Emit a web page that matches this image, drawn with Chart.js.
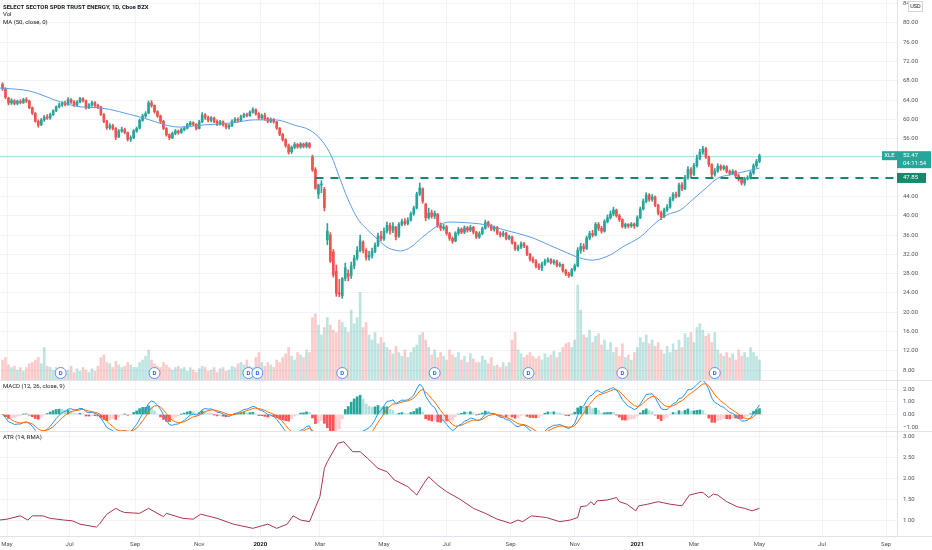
<!DOCTYPE html>
<html>
<head>
<meta charset="utf-8">
<script src="https://cdn.jsdelivr.net/npm/chart.js@4.4.1/dist/chart.umd.min.js"></script>
<style>
  html, body { margin: 0; padding: 0; background: #fff; }
  #wrap { position: relative; width: 932px; height: 550px; overflow: hidden; }
  canvas { position: absolute; left: 0; }
</style>
</head>
<body>
<div id="wrap">
  <canvas id="main" width="932" height="380" style="top:0;width:932px;height:380px"></canvas>
  <canvas id="macd" width="932" height="51" style="top:380px;width:932px;height:51px"></canvas>
  <canvas id="atr" width="932" height="119" style="top:431px;width:932px;height:119px"></canvas>
</div>
<script>
// x axis = trading session index, 0 = 1 May 2019
var tickDays = [0, 42, 86, 129, 170, 210, 253, 295, 338, 381, 423, 461, 505, 547, 590];
var tickLabels = ["May", "Jul", "Sep", "Nov", "2020", "Mar", "May", "Jul", "Sep", "Nov", "2021", "Mar", "May", "Jul", "Sep"];
var priceTicks = [8, 12, 16, 20, 24, 28, 32, 36, 40, 44, 48, 52, 56, 60, 64, 68, 72, 76, 80, 84];
var macdTicks = [-1, 0, 1, 2];
var atrTicks = [1, 1.5, 2, 2.5, 3];

// one candle per 2 sessions, first one starts at session -3
var firstDay = -3;
var dayStep = 2;

var opens = [67.3, 66.4, 64.4, 63.4, 63.8, 63.3, 63.7, 63.5, 64.1, 63.8,
  62.4, 61.3, 59.6, 58.9, 59.9, 60.5, 60.3, 61.0, 61.8, 62.6,
  63.0, 63.4, 63.1, 64.1, 63.6, 63.0, 63.6, 64.3, 63.9, 62.4,
  63.0, 63.5, 62.9, 62.6, 61.0, 59.6, 58.3, 58.7, 58.1, 56.4,
  57.6, 57.9, 57.3, 55.9, 56.2, 57.6, 58.2, 59.8, 60.7, 61.3,
  63.4, 62.9, 61.6, 60.7, 59.6, 58.1, 56.8, 56.2, 57.1, 57.6,
  57.3, 57.9, 58.2, 58.9, 59.3, 59.0, 58.1, 59.5, 60.9, 60.4,
  59.8, 60.3, 59.6, 59.0, 59.5, 58.9, 58.4, 58.7, 59.6, 60.0,
  59.8, 60.6, 61.0, 60.8, 61.5, 62.0, 61.2, 60.3, 60.8, 60.2,
  59.6, 60.0, 59.5, 58.2, 56.9, 55.8, 54.6, 53.3, 54.2, 54.8,
  54.3, 54.9, 54.4, 55.0, 52.2, 49.6, 44.5, 46.4, 45.5, 35.0,
  36.0, 32.5, 28.5, 24.0, 23.4, 27.0, 28.0, 27.6, 29.6, 31.2,
  32.8, 34.5, 32.8, 31.4, 31.8, 32.6, 33.9, 35.8, 35.2, 36.8,
  38.0, 37.0, 37.6, 35.8, 38.2, 38.8, 38.4, 39.1, 40.4, 41.6,
  44.5, 45.6, 42.4, 39.6, 40.6, 39.9, 40.3, 38.0, 37.4, 37.7,
  36.3, 35.3, 34.8, 36.4, 37.2, 36.6, 37.5, 37.0, 37.6, 36.6,
  35.6, 36.3, 37.4, 38.6, 38.0, 37.2, 37.6, 36.4, 36.0, 36.4,
  35.3, 35.6, 34.4, 33.1, 33.5, 34.2, 33.6, 32.0, 31.0, 30.6,
  29.6, 29.2, 30.0, 30.6, 30.9, 30.3, 30.6, 29.7, 29.9, 28.6,
  28.0, 27.6, 28.8, 29.6, 32.8, 33.6, 33.2, 35.4, 36.3, 36.0,
  38.2, 37.4, 36.8, 38.8, 39.6, 40.4, 41.2, 40.0, 39.2, 37.8,
  38.2, 37.9, 38.3, 37.9, 39.6, 41.4, 43.0, 44.3, 43.4, 43.9,
  42.2, 40.6, 39.8, 41.2, 41.8, 43.4, 44.4, 44.1, 46.4, 45.6,
  47.9, 49.6, 48.6, 50.4, 51.9, 53.2, 53.9, 52.2, 50.6, 48.6,
  49.3, 50.3, 49.8, 50.2, 49.2, 48.8, 49.2, 48.3, 47.6, 46.8,
  47.7, 47.9, 48.9, 50.4, 51.3];
var highs = [67.6, 66.6, 64.6, 64.3, 64.1, 64.0, 64.1, 64.4, 64.5, 64.0,
  62.6, 61.4, 59.9, 60.2, 60.8, 61.0, 61.3, 62.0, 62.8, 63.4,
  63.7, 63.8, 64.5, 64.3, 63.9, 63.9, 64.6, 64.5, 64.0, 63.3,
  63.8, 63.7, 63.2, 62.7, 61.2, 59.8, 59.1, 59.0, 58.3, 57.9,
  58.4, 58.2, 57.4, 56.6, 57.9, 58.4, 60.1, 61.1, 61.6, 63.8,
  63.9, 63.0, 61.8, 60.9, 59.8, 58.3, 57.0, 57.4, 57.9, 57.8,
  58.2, 58.5, 59.2, 59.6, 59.5, 59.1, 59.8, 61.4, 61.2, 60.7,
  60.6, 60.5, 59.9, 59.8, 59.7, 59.1, 59.0, 59.9, 60.4, 60.3,
  60.9, 61.3, 61.3, 61.8, 62.4, 62.2, 61.4, 61.1, 61.3, 60.4,
  60.3, 60.2, 59.6, 58.3, 57.1, 56.0, 54.9, 54.5, 55.2, 55.0,
  55.2, 55.1, 55.3, 55.2, 52.6, 50.0, 46.6, 47.3, 45.9, 38.4,
  36.5, 33.0, 29.8, 26.8, 27.2, 30.2, 28.8, 30.4, 31.8, 33.6,
  36.0, 34.8, 33.2, 32.6, 33.3, 34.4, 36.4, 36.8, 37.5, 38.7,
  38.5, 38.6, 37.8, 38.6, 39.3, 39.4, 39.6, 40.8, 42.0, 44.9,
  46.8, 45.8, 42.6, 41.6, 41.2, 41.0, 40.5, 38.5, 38.2, 38.0,
  36.6, 35.6, 36.7, 37.6, 37.5, 37.9, 37.8, 38.0, 37.8, 36.8,
  36.7, 37.7, 39.1, 38.9, 38.2, 37.9, 37.8, 36.7, 36.8, 36.6,
  36.0, 35.8, 34.6, 33.9, 34.6, 34.5, 33.8, 32.2, 31.5, 30.9,
  30.1, 30.4, 31.0, 31.3, 31.1, 30.9, 30.8, 30.3, 30.0, 28.9,
  28.3, 29.1, 30.0, 33.4, 34.3, 34.2, 35.8, 36.8, 37.0, 38.6,
  38.6, 37.8, 39.2, 40.2, 41.0, 41.8, 41.4, 40.3, 39.4, 38.5,
  38.4, 38.6, 38.5, 40.0, 41.8, 43.5, 44.8, 44.6, 44.4, 44.1,
  42.4, 41.0, 41.6, 42.3, 43.9, 44.8, 44.9, 46.8, 46.9, 48.4,
  50.2, 50.0, 50.9, 52.6, 53.8, 54.4, 54.2, 52.4, 50.8, 49.8,
  50.8, 50.6, 50.5, 50.4, 49.5, 49.6, 49.4, 48.6, 47.8, 48.0,
  48.3, 49.3, 50.8, 51.7, 52.8];
var lows = [66.0, 64.3, 63.0, 63.1, 63.0, 63.0, 63.2, 63.3, 63.5, 62.2,
  61.0, 59.4, 58.4, 58.7, 59.6, 60.0, 60.0, 60.8, 61.6, 62.4,
  62.7, 62.8, 62.9, 63.3, 62.7, 62.8, 63.4, 63.6, 62.1, 62.2,
  62.7, 62.6, 62.2, 60.8, 59.3, 57.9, 57.9, 57.8, 55.8, 56.2,
  57.3, 57.0, 55.5, 55.4, 56.0, 57.3, 58.0, 59.6, 60.4, 61.2,
  62.5, 61.3, 60.4, 59.3, 57.9, 56.5, 55.8, 56.0, 56.8, 56.9,
  57.1, 57.6, 58.0, 58.6, 58.7, 57.8, 58.0, 59.3, 60.0, 59.5,
  59.5, 59.3, 58.7, 58.8, 58.6, 58.0, 58.0, 58.5, 59.3, 59.4,
  59.6, 60.3, 60.5, 60.6, 61.3, 60.9, 60.0, 60.0, 59.8, 59.3,
  59.3, 59.2, 57.9, 56.6, 55.5, 54.2, 52.8, 52.9, 53.9, 54.0,
  54.0, 54.1, 54.1, 54.0, 49.2, 45.5, 43.6, 44.8, 41.0, 34.0,
  30.3, 27.3, 23.3, 23.2, 22.9, 26.5, 26.5, 27.0, 29.0, 30.8,
  32.5, 32.3, 30.8, 30.8, 31.2, 32.3, 33.6, 34.8, 34.9, 36.4,
  36.2, 36.5, 35.0, 35.5, 37.9, 38.0, 38.1, 38.9, 40.1, 41.4,
  44.2, 42.6, 39.0, 39.3, 39.5, 39.4, 37.6, 36.9, 37.0, 36.0,
  34.9, 34.3, 34.6, 36.0, 36.3, 36.3, 36.6, 36.7, 36.2, 35.3,
  35.3, 36.1, 37.2, 37.6, 36.9, 36.8, 36.1, 35.6, 35.7, 35.0,
  35.0, 34.1, 32.8, 32.7, 33.2, 33.4, 31.7, 30.6, 30.2, 29.2,
  28.8, 28.6, 29.7, 30.3, 30.0, 29.9, 29.4, 29.4, 28.3, 27.6,
  27.2, 27.4, 28.5, 29.4, 32.2, 32.6, 33.0, 35.0, 35.6, 35.8,
  36.9, 36.4, 36.6, 38.5, 39.3, 40.0, 39.7, 38.8, 37.5, 37.4,
  37.5, 37.6, 37.4, 37.7, 39.4, 41.2, 42.7, 43.0, 43.0, 41.9,
  40.2, 39.2, 39.6, 40.9, 41.6, 43.1, 43.7, 43.9, 45.2, 45.4,
  47.6, 48.0, 48.3, 50.1, 51.6, 52.8, 51.9, 50.2, 48.1, 48.2,
  49.0, 49.4, 49.5, 48.9, 48.4, 48.5, 47.9, 47.2, 46.4, 46.3,
  47.4, 47.6, 48.6, 50.0, 51.0];
var closes = [66.4, 64.6, 63.4, 63.9, 63.3, 63.8, 63.5, 64.1, 63.8, 62.4,
  61.3, 59.6, 58.8, 59.9, 60.5, 60.3, 61.0, 61.8, 62.6, 63.0,
  63.4, 63.1, 64.1, 63.6, 63.0, 63.6, 64.3, 63.9, 62.4, 63.0,
  63.5, 62.9, 62.6, 61.0, 59.6, 58.3, 58.7, 58.1, 56.3, 57.6,
  57.9, 57.3, 55.9, 56.2, 57.6, 58.1, 59.8, 60.7, 61.2, 63.4,
  62.9, 61.6, 60.7, 59.6, 58.1, 56.8, 56.2, 57.1, 57.6, 57.3,
  57.9, 58.2, 58.9, 59.3, 59.0, 58.1, 59.5, 60.9, 60.4, 59.8,
  60.3, 59.6, 59.0, 59.5, 58.9, 58.4, 58.7, 59.6, 60.0, 59.8,
  60.6, 61.0, 60.8, 61.5, 62.0, 61.2, 60.3, 60.8, 60.2, 59.6,
  60.0, 59.5, 58.2, 56.9, 55.8, 54.6, 53.2, 54.2, 54.8, 54.3,
  54.9, 54.4, 55.0, 54.3, 49.5, 45.7, 46.4, 46.5, 41.7, 36.8,
  30.6, 27.8, 23.9, 23.8, 27.0, 29.2, 27.4, 29.6, 31.2, 32.8,
  34.8, 32.8, 31.4, 31.8, 32.6, 33.9, 35.8, 35.2, 36.8, 38.0,
  37.0, 37.8, 35.6, 38.2, 38.8, 38.4, 39.1, 40.4, 41.6, 44.5,
  45.8, 43.0, 39.6, 40.6, 39.9, 40.5, 38.0, 37.4, 37.7, 36.3,
  35.3, 34.7, 36.4, 37.2, 36.6, 37.5, 37.0, 37.6, 36.6, 35.6,
  36.3, 37.4, 38.6, 38.0, 37.2, 37.6, 36.4, 36.0, 36.4, 35.3,
  35.7, 34.4, 33.1, 33.5, 34.2, 33.8, 32.0, 31.0, 30.6, 29.6,
  29.2, 30.0, 30.6, 30.9, 30.3, 30.6, 29.7, 29.9, 28.6, 28.0,
  27.6, 28.8, 29.6, 32.8, 33.6, 33.2, 35.4, 36.3, 36.0, 38.2,
  37.4, 36.8, 38.8, 39.6, 40.4, 41.2, 40.0, 39.2, 37.8, 38.2,
  37.9, 38.3, 37.9, 39.6, 41.4, 43.0, 44.3, 43.4, 43.9, 42.2,
  40.6, 39.8, 41.2, 41.8, 43.4, 44.4, 44.1, 46.4, 45.6, 47.9,
  49.6, 48.6, 50.4, 51.9, 53.2, 53.9, 52.2, 50.6, 48.6, 49.3,
  50.3, 49.8, 50.2, 49.2, 48.8, 49.2, 48.3, 47.6, 46.8, 47.7,
  47.9, 48.9, 50.4, 51.3, 52.47];
// volume, millions of shares per session
var vols = [16, 18, 12, 10, 11, 8, 10, 7, 10, 13,
  14, 16, 18, 13, 26, 11, 10, 8, 10, 8,
  10, 7, 8, 11, 6, 9, 7, 10, 8, 6,
  9, 7, 11, 18, 20, 14, 13, 10, 15, 12,
  10, 11, 14, 12, 10, 10, 14, 16, 19, 24,
  16, 13, 11, 10, 14, 12, 10, 8, 10, 11,
  9, 10, 7, 10, 8, 6, 9, 11, 10, 7,
  8, 10, 6, 9, 10, 7, 8, 11, 10, 13,
  14, 12, 16, 11, 10, 18, 22, 14, 11, 14,
  12, 10, 16, 14, 18, 21, 26, 19, 16, 22,
  20, 18, 24, 22, 50, 53, 44, 36, 42, 50,
  44, 40, 38, 48, 46, 42, 38, 56, 45, 50,
  70, 42, 46, 36, 32, 38, 29, 34, 30, 26,
  24, 21, 27, 22, 19, 24, 18, 22, 26, 28,
  36, 38, 32, 26, 20, 24, 18, 22, 19, 16,
  24, 20, 18, 22, 16, 19, 14, 21, 17, 14,
  14, 19, 16, 13, 18, 11, 12, 10, 14, 11,
  14, 32, 38, 24, 21, 18, 20, 22, 19, 17,
  19, 16, 21, 18, 20, 23, 18, 22, 26, 29,
  30, 26, 32, 76, 56, 36, 34, 40, 30, 35,
  37, 28, 32, 24, 30, 22, 26, 19, 29, 18,
  20, 16, 22, 26, 34, 30, 36, 29, 32, 27,
  30, 24, 21, 27, 22, 29, 24, 32, 26, 37,
  34, 38, 30, 42, 45, 40, 35, 37, 30, 38,
  24, 21, 19, 22, 18, 21, 16, 24, 19, 22,
  18, 26, 22, 19, 16];

// MA(50)
var maDays = [-5, 15, 36, 49, 62, 89, 116, 130, 152, 166, 180, 193, 203, 211, 218, 222, 229, 236, 242, 249,
  256, 260, 264, 271, 279, 289, 297, 311, 322, 331, 342, 353, 364, 376, 385, 393, 405, 413, 425, 436,
  443, 452, 460, 470, 477, 485, 494, 505];
var maValues = [66.5, 65.9, 63.6, 62.6, 62.4, 60.5, 58.4, 58.8, 59.3, 59.9, 59.9, 58.8, 57.8, 55.7, 52.2, 48.9, 43.3, 39.1, 37.1, 35.0,
  33.3, 32.9, 32.7, 33.5, 35.6, 37.9, 38.7, 38.5, 38.1, 37.3, 36.4, 35.4, 33.9, 32.3, 31.2, 30.8, 31.9, 33.5, 35.6, 38.7,
  40.2, 41.2, 43.3, 46.0, 47.8, 48.5, 49.1, 49.9];

// ATR(14, RMA)
var atrDays = [-5, 0, 9, 14, 17, 24, 29, 38, 44, 49, 60, 62, 67, 73, 76, 79, 89, 95, 105, 107,
  118, 125, 130, 141, 152, 165, 175, 181, 188, 192, 197, 203, 210, 213, 215, 222, 226, 232, 237, 242,
  249, 255, 260, 269, 275, 279, 283, 289, 295, 304, 313, 321, 329, 338, 343, 346, 352, 362, 371, 378,
  383, 385, 389, 392, 394, 396, 403, 409, 411, 416, 422, 424, 430, 437, 445, 453, 458, 465, 467, 471,
  474, 477, 483, 490, 495, 500, 505];
var atrValues = [1.00, 1.02, 1.10, 1.00, 1.10, 1.10, 1.04, 1.00, 0.98, 0.90, 0.83, 0.90, 1.14, 1.28, 1.22, 1.18, 1.16, 1.28, 1.08, 1.16,
  1.04, 1.02, 1.14, 1.04, 0.90, 0.80, 0.90, 0.80, 0.90, 1.10, 1.00, 0.96, 1.56, 2.24, 2.40, 2.84, 2.88, 2.64, 2.64, 2.48,
  2.24, 2.16, 1.96, 1.80, 1.60, 1.84, 2.04, 1.84, 1.68, 1.50, 1.28, 1.16, 1.02, 0.92, 1.00, 0.96, 1.10, 1.06, 0.96, 1.00,
  1.06, 1.32, 1.34, 1.44, 1.36, 1.46, 1.48, 1.54, 1.44, 1.38, 1.22, 1.34, 1.38, 1.44, 1.38, 1.34, 1.60, 1.66, 1.66, 1.54,
  1.62, 1.60, 1.44, 1.32, 1.28, 1.22, 1.28];

var divDays = [36, 99, 162, 168, 225, 287, 350, 413, 475];
var lastPrice = 52.47;
var countdown = "04:11:54";
var levelPrice = 47.85;
var levelFrom = 207;

var FONT = 'Roboto, "DejaVu Sans", sans-serif';
Chart.defaults.font.family = FONT;

var upColor = '#26a69a';
var downColor = '#ef5350';

var barDays = closes.map(function (c, k) { return firstDay + dayStep * k; });
var candleColors = closes.map(function (c, k) { return c >= opens[k] ? upColor : downColor; });
var volColors = closes.map(function (c, k) {
  return c >= opens[k] ? 'rgba(38,166,154,0.3)' : 'rgba(239,83,80,0.3)';
});

// MACD 12/26/9 on the closes, smoothing adjusted for 2 sessions per candle
var a12 = 1 - Math.pow(11 / 13, dayStep);
var a26 = 1 - Math.pow(25 / 27, dayStep);
var a9 = 1 - Math.pow(8 / 10, dayStep);
var e12 = closes[0], e26 = closes[0], sig = 0;
var macdLine = [], sigLine = [], hist = [];
closes.forEach(function (c) {
  e12 += a12 * (c - e12);
  e26 += a26 * (c - e26);
  var m = e12 - e26;
  sig += a9 * (m - sig);
  macdLine.push(m);
  sigLine.push(sig);
  hist.push(m - sig);
});
var histColors = hist.map(function (h, k) {
  var prev = k ? hist[k - 1] : 0;
  if (h >= 0) return h > prev ? '#26a69a' : '#b2dfdb';
  return h < prev ? '#ff5252' : '#ffcdd2';
});

function pts(xs, ys) {
  return xs.map(function (x, i) { return { x: x, y: ys[i] }; });
}

function xAxis(h) {
  return {
    type: 'linear', min: -4.7, max: 597.3, offset: false,
    afterBuildTicks: function (s) { s.ticks = tickDays.map(function (v) { return { value: v }; }); },
    afterFit: function (s) { s.height = h; s.paddingLeft = 0; s.paddingRight = 0; },
    ticks: { display: false },
    grid: { color: '#f1f3f7', drawTicks: false, offset: false },
    border: { display: false }
  };
}

function yAxis(min, max, ticks) {
  return {
    position: 'right', min: min, max: max,
    afterBuildTicks: function (s) { s.ticks = ticks.map(function (v) { return { value: v }; }); },
    afterFit: function (s) { s.width = 35; s.paddingTop = 0; s.paddingBottom = 0; },
    ticks: { display: false },
    grid: { color: '#f1f3f7', drawTicks: false },
    border: { color: '#e0e3eb' }
  };
}

var baseOptions = {
  responsive: false,
  animation: false,
  events: [],
  layout: { padding: 0 },
  plugins: { legend: { display: false }, tooltip: { enabled: false } }
};

function opts(scales) {
  return Object.assign({}, baseOptions, { scales: scales });
}

function yLabels(chart, ticks, fmt) {
  var ctx = chart.ctx, y = chart.scales.y;
  ctx.save();
  ctx.font = '6px ' + FONT;
  ctx.fillStyle = '#50535e';
  ctx.textAlign = 'left';
  ctx.textBaseline = 'middle';
  ticks.forEach(function (v) { ctx.fillText(fmt(v), 903, y.getPixelForValue(v)); });
  ctx.restore();
}

function box(ctx, x, y, w, h, fill) {
  ctx.fillStyle = fill;
  ctx.fillRect(x, y, w, h);
}

var mainOverlay = {
  id: 'mainOverlay',
  beforeDatasetsDraw: function (chart) {
    var ctx = chart.ctx, y = chart.scales.y, a = chart.chartArea;
    var py = Math.round(y.getPixelForValue(lastPrice)) + 0.5;
    ctx.save();
    ctx.strokeStyle = 'rgba(38,166,154,0.35)';
    ctx.lineWidth = 1;
    ctx.beginPath(); ctx.moveTo(a.left, py); ctx.lineTo(a.right, py); ctx.stroke();
    ctx.restore();
  },
  afterDatasetsDraw: function (chart) {
    var ctx = chart.ctx, x = chart.scales.x, y = chart.scales.y, a = chart.chartArea;
    ctx.save();
    // horizontal level
    var ly = y.getPixelForValue(levelPrice);
    ctx.strokeStyle = '#138a6c';
    ctx.lineWidth = 2;
    ctx.setLineDash([8, 7]);
    ctx.beginPath(); ctx.moveTo(x.getPixelForValue(levelFrom), ly); ctx.lineTo(a.right, ly); ctx.stroke();
    ctx.setLineDash([]);
    // dividends
    divDays.forEach(function (d) {
      var cx = x.getPixelForValue(d), cy = 373;
      ctx.beginPath(); ctx.arc(cx, cy, 5.5, 0, Math.PI * 2);
      ctx.fillStyle = '#ffffff'; ctx.fill();
      ctx.strokeStyle = '#5b95f0'; ctx.lineWidth = 1; ctx.stroke();
      ctx.fillStyle = '#2962ff';
      ctx.font = 'bold 6px ' + FONT;
      ctx.textAlign = 'center'; ctx.textBaseline = 'middle';
      ctx.fillText('D', cx, cy + 0.5);
    });
    ctx.restore();
  },
  afterDraw: function (chart) {
    var ctx = chart.ctx, y = chart.scales.y;
    yLabels(chart, priceTicks, function (v) { return v.toFixed(2); });
    ctx.save();
    ctx.textBaseline = 'middle';
    ctx.textAlign = 'left';
    ctx.fillStyle = '#131722';
    ctx.font = 'bold 6px ' + FONT;
    ctx.fillText('SELECT SECTOR SPDR TRUST ENERGY, 1D, Cboe BZX', 3, 7);
    ctx.font = '6px ' + FONT;
    ctx.fillText('Vol', 3, 14.5);
    ctx.fillText('MA (50, close, 0)', 3, 22);
    // USD tag
    ctx.fillStyle = '#ffffff';
    ctx.strokeStyle = '#d1d4dc';
    ctx.lineWidth = 1;
    ctx.fillRect(908.5, 1.5, 14, 10);
    ctx.strokeRect(908.5, 1.5, 14, 10);
    ctx.fillStyle = '#131722';
    ctx.font = '5.5px ' + FONT;
    ctx.textAlign = 'center';
    ctx.fillText('USD', 915.5, 7);
    // last price tags
    var py = y.getPixelForValue(lastPrice);
    box(ctx, 882, py - 4.5, 15, 9, upColor);
    box(ctx, 897, py - 4.5, 34, 17, upColor);
    ctx.fillStyle = '#ffffff';
    ctx.font = '6px ' + FONT;
    ctx.fillText('XLE', 889.5, py);
    ctx.textAlign = 'left';
    ctx.fillText(lastPrice.toFixed(2), 903, py);
    ctx.fillText(countdown, 903, py + 8);
    var ly = y.getPixelForValue(levelPrice);
    box(ctx, 897, ly - 5, 29, 10, '#138a6c');
    ctx.fillStyle = '#ffffff';
    ctx.fillText(levelPrice.toFixed(2), 903, ly);
    ctx.restore();
  }
};

function paneOverlay(title, ticks, withDates) {
  return {
    id: 'paneOverlay',
    afterDraw: function (chart) {
      var ctx = chart.ctx, a = chart.chartArea;
      yLabels(chart, ticks, function (v) { return v.toFixed(2).replace('-', '\u2212'); });
      ctx.save();
      ctx.strokeStyle = '#e0e3eb';
      ctx.lineWidth = 1;
      ctx.beginPath(); ctx.moveTo(0, 0.5); ctx.lineTo(chart.width, 0.5); ctx.stroke();
      ctx.fillStyle = '#131722';
      ctx.font = '6px ' + FONT;
      ctx.textAlign = 'left';
      ctx.textBaseline = 'middle';
      ctx.fillText(title, 3, 6.5);
      if (withDates) {
        var x = chart.scales.x;
        ctx.beginPath(); ctx.moveTo(0, a.bottom + 0.5); ctx.lineTo(chart.width, a.bottom + 0.5); ctx.stroke();
        ctx.textAlign = 'center';
        ctx.fillStyle = '#50535e';
        tickDays.forEach(function (d, i) {
          var isYear = /^\d{4}$/.test(tickLabels[i]);
          ctx.font = (isYear ? 'bold ' : '') + '6px ' + FONT;
          ctx.fillStyle = isYear ? '#131722' : '#50535e';
          ctx.fillText(tickLabels[i], x.getPixelForValue(d), a.bottom + 8);
        });
      }
      ctx.restore();
    }
  };
}

new Chart('main', {
  type: 'bar',
  data: {
    datasets: [
      { label: 'Vol', yAxisID: 'yv', data: pts(barDays, vols), backgroundColor: volColors,
        barThickness: 2, grouped: false, order: 4 },
      { label: 'wick', data: barDays.map(function (d, k) { return { x: d, y: [lows[k], highs[k]] }; }),
        backgroundColor: candleColors, barThickness: 1, grouped: false, order: 3 },
      { label: 'body', data: barDays.map(function (d, k) { return { x: d, y: [opens[k], closes[k]] }; }),
        backgroundColor: candleColors, barThickness: 2, grouped: false, minBarLength: 1, order: 2 },
      { type: 'line', label: 'MA', data: pts(maDays, maValues), borderColor: '#5b9ee6', borderWidth: 1,
        pointRadius: 0, cubicInterpolationMode: 'monotone', order: 1 }
    ]
  },
  options: opts({
    x: xAxis(0),
    y: yAxis(5.93, 84.77, priceTicks),
    yv: { display: false, min: 0, max: 304 }
  }),
  plugins: [mainOverlay]
});

new Chart('macd', {
  type: 'bar',
  data: {
    datasets: [
      { label: 'Histogram', data: pts(barDays, hist), backgroundColor: histColors,
        barThickness: 2, grouped: false, order: 3 },
      { type: 'line', label: 'MACD', data: pts(barDays, macdLine), borderColor: '#2196f3',
        borderWidth: 1, pointRadius: 0, order: 2 },
      { type: 'line', label: 'Signal', data: pts(barDays, sigLine), borderColor: '#ff6d00',
        borderWidth: 1, pointRadius: 0, order: 1 }
    ]
  },
  options: opts({ x: xAxis(0), y: yAxis(-1.31, 2.74, macdTicks) }),
  plugins: [paneOverlay('MACD (12, 26, close, 9)', macdTicks, false)]
});

new Chart('atr', {
  type: 'line',
  data: {
    datasets: [
      { label: 'ATR', data: pts(atrDays, atrValues), borderColor: '#a8364f', borderWidth: 1, pointRadius: 0 }
    ]
  },
  options: opts({ x: xAxis(14), y: yAxis(0.616, 3.137, atrTicks) }),
  plugins: [paneOverlay('ATR (14, RMA)', atrTicks, true)]
});
</script>
</body>
</html>
